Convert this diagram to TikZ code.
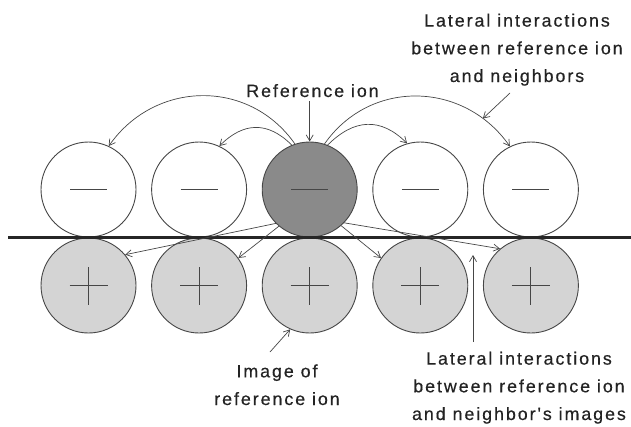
\documentclass[tikz,border=0pt]{standalone}
\usepackage{fontspec}
\setmainfont{Liberation Sans}[LetterSpace=11,Ligatures=TeXOff,FakeBold=0.5]
\usetikzlibrary{arrows.meta}
\definecolor{ink}{RGB}{70,70,70}
\definecolor{darkfill}{RGB}{138,138,138}
\definecolor{lightfill}{RGB}{212,212,212}
\definecolor{txt}{RGB}{35,35,35}
\begin{document}
\begin{tikzpicture}[x=1pt,y=-1pt,
  ion/.style={circle,draw=ink,line width=0.9pt,minimum size=95pt,inner sep=0pt},
  minussign/.style={path picture={\draw[ink,line width=0.9pt]
      ([xshift=-18.5pt]path picture bounding box.center) -- ([xshift=18.5pt]path picture bounding box.center);}},
  plussign/.style={path picture={\draw[ink,line width=0.9pt]
      ([xshift=-19pt]path picture bounding box.center) -- ([xshift=19pt]path picture bounding box.center)
      ([yshift=-19pt]path picture bounding box.center) -- ([yshift=19pt]path picture bounding box.center);}},
  neg/.style={ion,fill=white,minussign},
  refion/.style={ion,fill=darkfill,minussign},
  imgion/.style={ion,fill=lightfill,plussign},
  conn/.style={draw=ink,line width=0.7pt,-{Straight Barb[length=6pt,width=7pt]}},
  lbl/.style={font=\fontsize{17.8}{27.7}\selectfont,text=txt,inner sep=0pt,align=center}]
\useasboundingbox (0,0) rectangle (631,426);
% upper ions
\node[neg] (t1) at (88.5,189.5) {};
\node[neg] (t2) at (199.1,189.5) {};
\node[refion] (t3) at (309.7,189.5) {};
\node[neg] (t4) at (420.3,189.5) {};
\node[neg] (t5) at (530.9,189.5) {};
% image ions
\node[imgion] (b1) at (88.5,285.5) {};
\node[imgion] (b2) at (199.1,285.5) {};
\node[imgion] (b3) at (309.7,285.5) {};
\node[imgion] (b4) at (420.3,285.5) {};
\node[imgion] (b5) at (530.9,285.5) {};
% surface
\coordinate (sl) at (8,237.5);
\coordinate (sr) at (631,237.5);
\draw[line width=2.5pt,black!85] (sl) -- (sr);
% labels
\node[lbl,anchor=base] (lref) at (312.5,97) {Reference ion};
\node[lbl,anchor=base] (lnb) at (517,82) {Lateral interactions\\between reference ion\\and neighbors};
\node[lbl,anchor=base] (limg) at (277,405) {Image of\\reference ion};
\node[lbl,anchor=base] (lnbi) at (519,420) {Lateral interactions\\between reference ion\\and neighbor's images};
% arcs to neighbours
\draw[conn] (t3.108) to[out=125,in=55,looseness=1.1] (t1.65);
\draw[conn] (t3.112) to[out=135,in=45,looseness=1.2] (t2.65);
\draw[conn] (t3.68) to[out=45,in=135,looseness=1.2] (t4.106);
\draw[conn] (t3.72) to[out=55,in=125,looseness=1.1] coordinate[pos=0.83] (arcR) (t5.116);
% straight lines to images
\draw[conn] (t3.225) -- (b1.40);
\draw[conn] (t3.230) -- (b2.35);
\draw[conn] (t3.311) -- (b4.145);
\draw[conn] (t3.316) -- (b5.130);
% pointers
\draw[conn] (t3.north |- lref.south) ++(0,4) -- (t3.north);
\coordinate (pnb) at (510,93);
\draw[conn] (pnb) -- (arcR);
\coordinate (pimg) at (270,352);
\draw[conn] (pimg) -- (b3.246);
\coordinate (pv1) at (473,342);
\coordinate (pv2) at (473,255);
\draw[conn] (pv1) -- (pv2);
\end{tikzpicture}
\end{document}
